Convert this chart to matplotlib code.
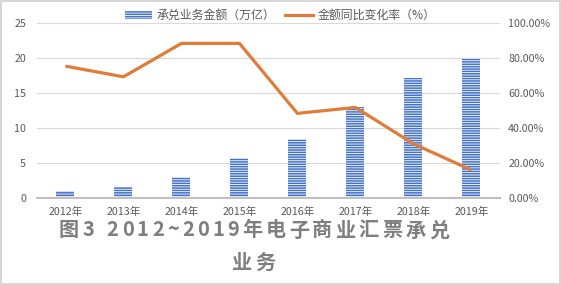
import matplotlib
matplotlib.use("Agg")
import matplotlib.pyplot as plt
from matplotlib.patches import Rectangle, Patch
from matplotlib.lines import Line2D

plt.rcParams['font.family'] = ['Noto Sans CJK SC', 'DejaVu Sans']
plt.rcParams['hatch.linewidth'] = 0.6

years = ['2012年', '2013年', '2014年', '2015年', '2016年', '2017年', '2018年', '2019年']
amount = [0.95, 1.6, 3.0, 5.7, 8.5, 13.0, 17.1, 19.9]
growth = [75.4, 69.3, 88.4, 88.4, 48.4, 51.8, 31.0, 16.0]
left_ticks = [0, 5, 10, 15, 20, 25]
right_ticks = [0, 20, 40, 60, 80, 100]
title_lines = ['图3 2012~2019年电子商业汇票承兑', '业务']
legend_labels = ['承兑业务金额（万亿）', '金额同比变化率（%）']

blue = '#4472C4'
orange = '#E07B39'
tick_color = '#595959'
grid_color = '#D9D9D9'

fig = plt.figure(figsize=(5.61, 2.85), dpi=100)
ax = fig.add_axes([0.066, 0.305, 0.825, 0.614])
x = list(range(len(years)))
ax.bar(x, amount, width=0.31, color=blue, edgecolor='white', linewidth=0,
       hatch='-------', zorder=2)
ax.set_ylim(0, 25)
ax.set_xlim(-0.49, 7.49)
ax.set_yticks(left_ticks)
ax.set_xticks(x)
ax.set_xticklabels(years)
ax.tick_params(axis='both', length=0, labelsize=7.7, colors=tick_color)
ax.tick_params(axis='x', pad=6)
ax.tick_params(axis='y', pad=8)
ax.grid(axis='y', color=grid_color, linewidth=0.8, zorder=0)
for s in ['top', 'right', 'left']:
    ax.spines[s].set_visible(False)
ax.spines['bottom'].set_color('#BFBFBF')
ax.spines['bottom'].set_linewidth(1.5)

ax2 = ax.twinx()
ax2.plot(x, growth, color=orange, linewidth=2.3, zorder=3, solid_capstyle='butt')
ax2.set_ylim(0, 100)
ax2.set_yticks(right_ticks)
ax2.set_yticklabels([f'{v:.2f}%' for v in right_ticks])
ax2.tick_params(axis='y', length=0, labelsize=7.7, colors=tick_color, pad=6)
for s in ['top', 'right', 'left', 'bottom']:
    ax2.spines[s].set_visible(False)

handles = [Patch(facecolor=blue, edgecolor='white', hatch='-------', linewidth=0),
           Line2D([0], [0], color=orange, linewidth=2.3)]
fig.legend(handles, legend_labels, loc='center', bbox_to_anchor=(0.499, 0.945),
           ncol=2, frameon=False, fontsize=8.6, labelcolor=tick_color,
           handlelength=2.3, handleheight=0.55, columnspacing=0.8, handletextpad=0.4)

# title with letter spacing, placed character by character
renderer = fig.canvas.get_renderer()
title_color = '#7F7F7F'
fs = 14.5
spacing = 3.2  # px
W, H = fig.bbox.width, fig.bbox.height
centers_y = [285 - 230, 285 - 263]
center_x = 254
for line, cy in zip(title_lines, centers_y):
    texts = []
    widths = []
    for ch in line:
        t = fig.text(0, cy / H, ch, fontsize=fs, fontweight='bold', color=title_color,
                     ha='left', va='center')
        bb = t.get_window_extent(renderer)
        w = bb.width if ch != ' ' else fs * 1.389 * 0.3
        texts.append(t)
        widths.append(w)
    total = sum(widths) + spacing * (len(line) - 1)
    xpos = center_x - total / 2
    for t, w in zip(texts, widths):
        t.set_x(xpos / W)
        xpos += w + spacing

fig.patches.append(Rectangle((0.002, 0.003), 0.996, 0.994, transform=fig.transFigure,
                             fill=False, edgecolor='#D0D0D0', linewidth=1.2))
fig.savefig('out.png', dpi=100)
